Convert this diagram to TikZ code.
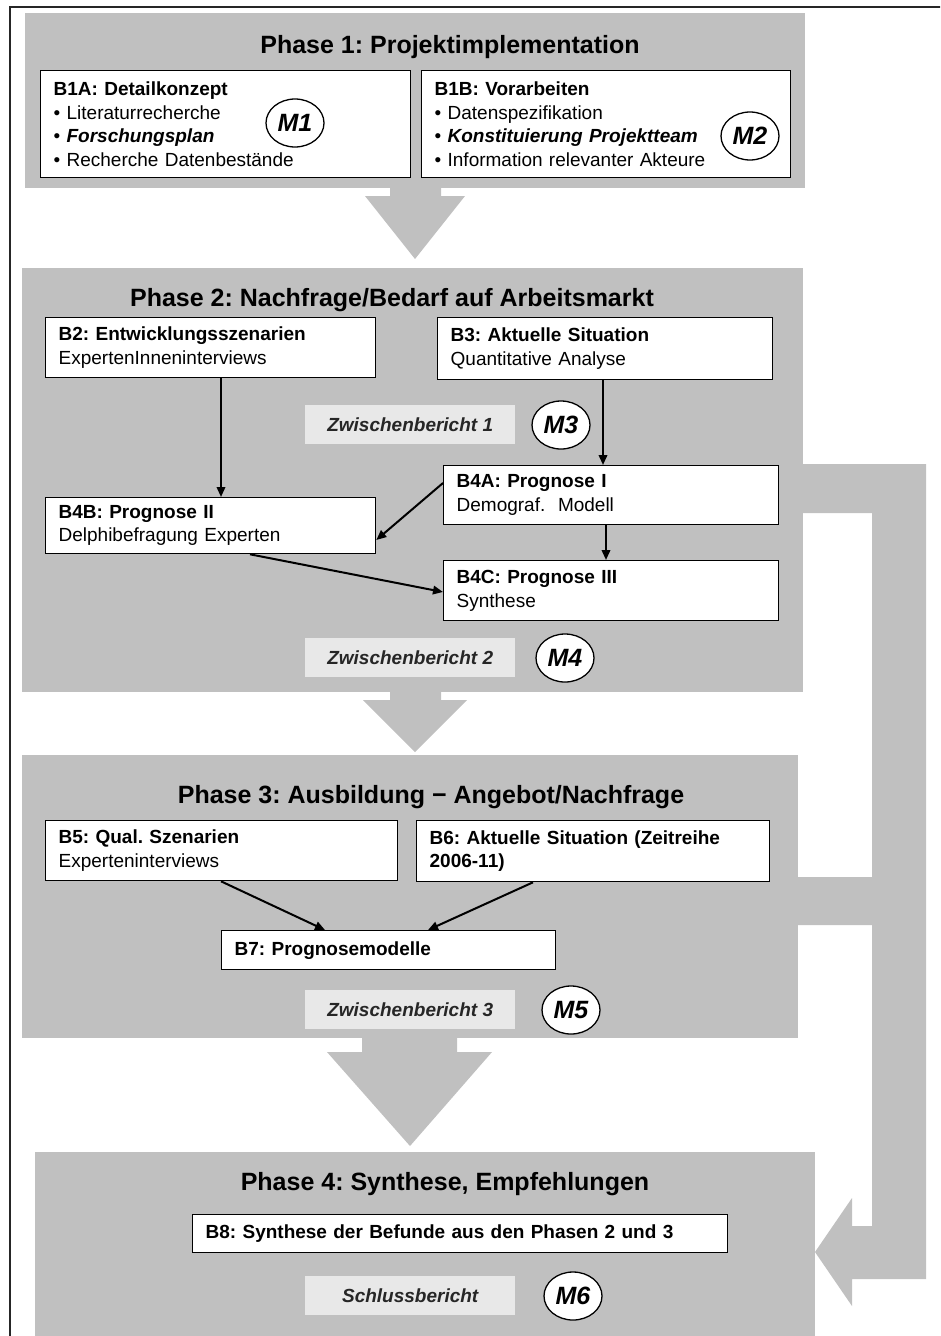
\documentclass[tikz,border=0pt]{standalone}
\usepackage{fontspec}
\setmainfont{Liberation Sans}
\usetikzlibrary{arrows.meta,shapes.geometric,calc}
\definecolor{panelgrey}{HTML}{C0C0C0}
\definecolor{notegrey}{HTML}{E8E8E8}
\frenchspacing
\begin{document}
\begin{tikzpicture}[x=1pt,y=-1pt,
  panel/.style={fill=panelgrey, draw=none, anchor=north west, inner sep=0pt},
  phasetitle/.style={font=\fontsize{25}{29}\selectfont\bfseries},
  taskbox/.style={draw=black, line width=1.3pt, fill=white, anchor=north west, inner xsep=13pt, inner ysep=0pt, align=left, font=\fontsize{19}{23.5}\selectfont},
  notebox/.style={fill=notegrey, anchor=north west, minimum width=210pt, minimum height=39pt, inner sep=0pt, font=\fontsize{19}{22}\selectfont\bfseries\itshape, text=black!85},
  mile/.style={ellipse, draw=black, line width=1.3pt, fill=white, minimum width=58pt, minimum height=48pt, inner sep=0pt, font=\fontsize{25}{27}\selectfont\bfseries\itshape},
  arr/.style={line width=2pt, -{Triangle[length=10pt,width=8.5pt]}},
  fat/.style={fill=panelgrey, draw=none}]
\useasboundingbox (0,0) rectangle (940,1336);
\clip (0,0) rectangle (940,1336);
\fill[white] (0,0) rectangle (940,1336);
\draw[line width=2pt, draw=black!85] (10,7) rectangle (980,1380);

% right connector (fat feedback arrow)
\fill[fat] (802,464) -- (926,464) -- (926,1279) -- (852,1279) -- (852,1306) -- (815,1252) -- (852,1198) -- (852,1226) -- (872,1226) -- (872,925) -- (797,925) -- (797,877) -- (872,877) -- (872,513) -- (802,513) -- cycle;

% panels
\node[panel, minimum width=780pt, minimum height=175pt] (p1) at (25,13) {};
\node[panel, minimum width=781pt, minimum height=424pt] (p2) at (22,268) {};
\node[panel, minimum width=776pt, minimum height=283pt] (p3) at (22,755) {};
\node[panel, minimum width=780pt, minimum height=200pt] (p4) at (35,1152) {};

% fat down arrows
\fill[fat] (390,185) -- (441,185) -- (441,196) -- (465,196) -- (415,259) -- (365,196) -- (390,196) -- cycle;
\fill[fat] (390,690) -- (441,690) -- (441,700) -- (467,700) -- (415,752) -- (363,700) -- (390,700) -- cycle;
\fill[fat] (362,1036) -- (457,1036) -- (457,1052) -- (492,1052) -- (410,1146) -- (327,1052) -- (362,1052) -- cycle;

% titles
\node[phasetitle] (t1) at (450,47) {Phase 1: Projektimplementation};
\node[phasetitle] (t2) at (392,300) {Phase 2: Nachfrage/Bedarf auf Arbeitsmarkt};
\node[phasetitle] (t3) at (431,797) {Phase 3: Ausbildung − Angebot/Nachfrage};
\node[phasetitle] (t4) at (445,1184) {Phase 4: Synthese, Empfehlungen};

% phase 1
\node[taskbox, text width=344pt, minimum height=107pt] (b1a) at (40,70)
  {\textbf{B1A: Detailkonzept}\\• Literaturrecherche\\• \textbf{\textit{Forschungsplan}}\\• Recherche Datenbestände};
\node[taskbox, text width=343pt, minimum height=107pt] (b1b) at (421,70)
  {\textbf{B1B: Vorarbeiten}\\• Datenspezifikation\\• \textbf{\textit{Konstituierung Projektteam}}\\• Information relevanter Akteure};
\node[mile] (m1) at (295,123) {M1};
\node[mile] (m2) at (750,136) {M2};

% phase 2
\node[taskbox, text width=304pt, minimum height=60pt] (b2) at (45,317)
  {\textbf{B2: Entwicklungsszenarien}\\ExpertenInneninterviews};
\node[taskbox, text width=309pt, minimum height=62pt] (b3) at (437,317)
  {\textbf{B3: Aktuelle Situation}\\Quantitative Analyse};
\node[notebox] (z1) at (305,405) {Zwischenbericht 1};
\node[mile] (m3) at (561,425) {M3};
\node[taskbox, text width=309pt, minimum height=59pt] (b4a) at (443,465)
  {\textbf{B4A: Prognose I}\\Demograf.~~Modell};
\node[taskbox, text width=304pt, minimum height=56pt] (b4b) at (45,497)
  {\textbf{B4B: Prognose II}\\Delphibefragung Experten};
\node[taskbox, text width=309pt, minimum height=60pt] (b4c) at (443,560)
  {\textbf{B4C: Prognose III}\\Synthese};
\node[notebox] (z2) at (305,638) {Zwischenbericht 2};
\node[mile] (m4) at (565,658) {M4};

\draw[arr] ($(b2.south west)+(176,0)$) -- ($(b4b.north west)+(176,0)$);
\draw[arr] ($(b3.south west)+(166,0)$) -- ($(b4a.north west)+(160,0)$);
\draw[arr] ($(b4a.north west)+(0,18)$) -- ($(b4b.north east)+(0,43)$);
\draw[arr] ($(b4a.south west)+(163,0)$) -- ($(b4c.north west)+(163,0)$);
\draw[arr] ($(b4b.south west)+(205,0)$) -- ($(b4c.north west)+(0,32)$);

% phase 3
\node[taskbox, text width=326pt, minimum height=60pt] (b5) at (45,820)
  {\textbf{B5: Qual. Szenarien}\\Experteninterviews};
\node[taskbox, text width=327pt, minimum height=61pt] (b6) at (416,820)
  {\textbf{B6: Aktuelle Situation (Zeitreihe}\\\textbf{2006-11)}};
\node[taskbox, text width=308pt, minimum height=39pt] (b7) at (221,930)
  {\textbf{B7: Prognosemodelle}};
\node[notebox] (z3) at (305,990) {Zwischenbericht 3};
\node[mile] (m5) at (571,1010) {M5};

\draw[arr] ($(b5.south west)+(176,0)$) -- ($(b7.north west)+(104,0)$);
\draw[arr] ($(b6.south west)+(117,0)$) -- ($(b7.north west)+(207,0)$);

% phase 4
\node[taskbox, text width=509pt, minimum height=38pt] (b8) at (192,1214)
  {\textbf{B8: Synthese der Befunde aus den Phasen 2 und 3}};
\node[notebox] (z4) at (305,1276) {Schlussbericht};
\node[mile] (m6) at (573,1296) {M6};
\end{tikzpicture}
\end{document}
